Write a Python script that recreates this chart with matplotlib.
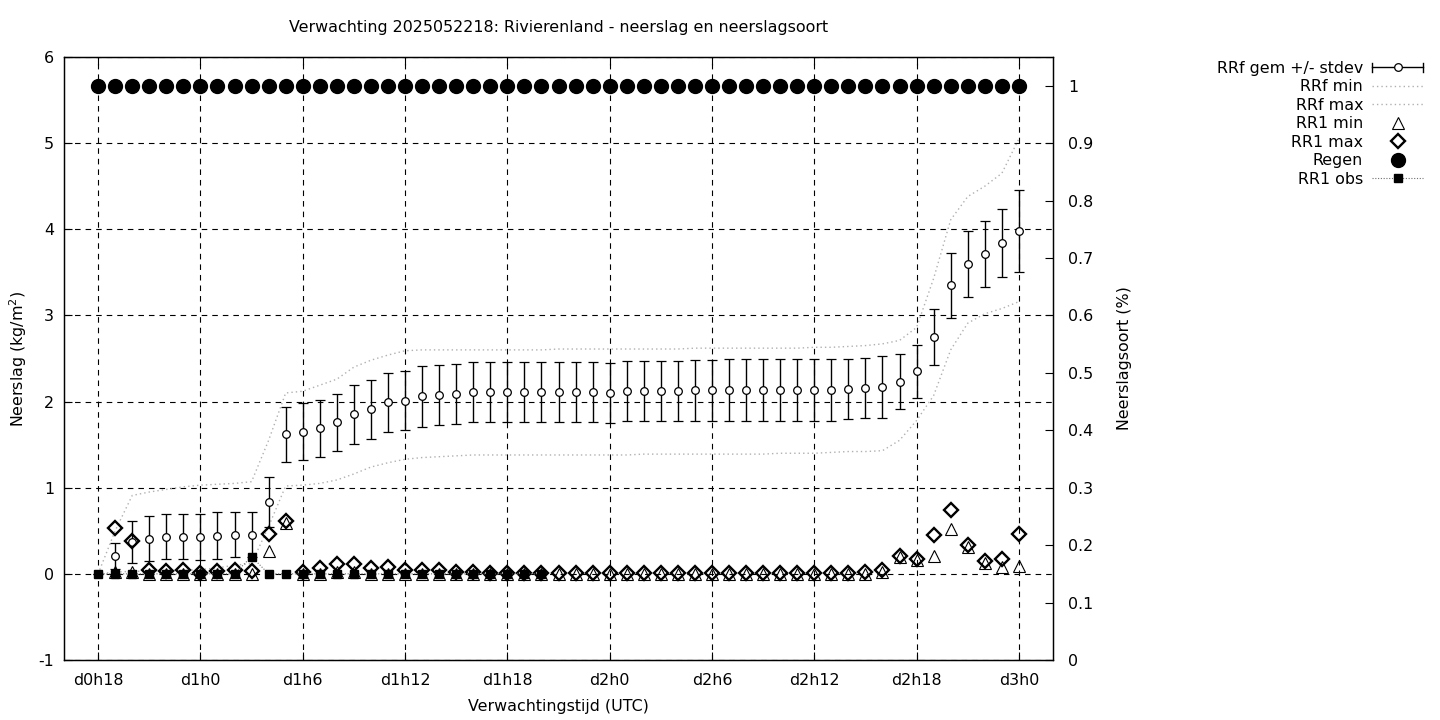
import numpy as np
import matplotlib
matplotlib.use('Agg')
import matplotlib.pyplot as plt
from matplotlib.lines import Line2D
from matplotlib.legend_handler import HandlerBase

plt.rcParams['font.family'] = ['DejaVu Sans']
plt.rcParams['font.size'] = 11.4
plt.rcParams['axes.unicode_minus'] = False

# ---------------- data ----------------
lead_hours = list(range(0, 55))  # hours after d0h18
tick_hours = [0, 6, 12, 18, 24, 30, 36, 42, 48, 54]
tick_labels = ['d0h18', 'd1h0', 'd1h6', 'd1h12', 'd1h18', 'd2h0', 'd2h6', 'd2h12', 'd2h18', 'd3h0']

rrf_mean = [0.0, 0.21, 0.37, 0.41, 0.43, 0.43, 0.43, 0.445, 0.455, 0.455,
            0.83, 1.62, 1.65, 1.69, 1.76, 1.85, 1.91, 1.99, 2.01, 2.06,
            2.08, 2.09, 2.11, 2.11, 2.11, 2.11, 2.11, 2.11, 2.11, 2.11,
            2.10, 2.12, 2.12, 2.12, 2.12, 2.13, 2.13, 2.13, 2.13, 2.13,
            2.13, 2.14, 2.14, 2.14, 2.15, 2.16, 2.17, 2.23, 2.35, 2.75,
            3.35, 3.60, 3.71, 3.84, 3.98]
rrf_std = [0.0, 0.15, 0.24, 0.26, 0.26, 0.26, 0.27, 0.27, 0.26, 0.26,
           0.29, 0.32, 0.33, 0.33, 0.33, 0.34, 0.34, 0.34, 0.34, 0.35,
           0.35, 0.35, 0.35, 0.35, 0.35, 0.35, 0.35, 0.35, 0.35, 0.35,
           0.35, 0.35, 0.35, 0.35, 0.35, 0.35, 0.35, 0.36, 0.36, 0.36,
           0.36, 0.36, 0.36, 0.36, 0.35, 0.35, 0.36, 0.32, 0.31, 0.33,
           0.38, 0.385, 0.385, 0.395, 0.475]
rrf_min = [0.0, 0.02, 0.03, 0.03, 0.04, 0.04, 0.05, 0.07, 0.10, 0.12,
           0.55, 1.02, 1.03, 1.05, 1.09, 1.16, 1.24, 1.29, 1.33, 1.35,
           1.36, 1.37, 1.38, 1.38, 1.38, 1.38, 1.38, 1.38, 1.38, 1.38,
           1.38, 1.38, 1.39, 1.39, 1.39, 1.39, 1.39, 1.39, 1.39, 1.39,
           1.40, 1.40, 1.40, 1.41, 1.42, 1.42, 1.43, 1.55, 1.78, 2.07,
           2.60, 2.91, 3.02, 3.08, 3.16]
rrf_max = [0.0, 0.50, 0.91, 0.95, 0.98, 1.01, 1.03, 1.04, 1.05, 1.07,
           1.55, 2.10, 2.12, 2.19, 2.26, 2.40, 2.48, 2.54, 2.59, 2.60,
           2.60, 2.60, 2.60, 2.60, 2.60, 2.60, 2.60, 2.61, 2.61, 2.61,
           2.61, 2.61, 2.61, 2.61, 2.61, 2.62, 2.62, 2.62, 2.62, 2.62,
           2.62, 2.62, 2.63, 2.63, 2.64, 2.65, 2.67, 2.71, 2.86, 3.43,
           4.11, 4.38, 4.50, 4.65, 5.05]
rr1_min = [np.nan, 0.02, 0.02, 0.0, 0.0, 0.0, 0.0, 0.0, 0.0, 0.0,
           0.26, 0.59, 0.0, 0.0, 0.02, 0.02, 0.0, 0.0, 0.0, 0.0,
           0.0, 0.0, 0.0, 0.0, 0.0, 0.0, 0.0, 0.0, 0.0, 0.0,
           0.0, 0.0, 0.0, 0.0, 0.0, 0.0, 0.0, 0.0, 0.0, 0.0,
           0.0, 0.0, 0.0, 0.0, 0.0, 0.0, 0.02, 0.19, 0.16, 0.21,
           0.52, 0.31, 0.13, 0.08, 0.09]
rr1_max = [np.nan, 0.53, 0.38, 0.05, 0.03, 0.04, 0.01, 0.03, 0.05, 0.03,
           0.46, 0.61, 0.02, 0.07, 0.12, 0.12, 0.07, 0.08, 0.04, 0.05,
           0.04, 0.02, 0.02, 0.01, 0.01, 0.01, 0.01, 0.01, 0.01, 0.01,
           0.01, 0.01, 0.01, 0.01, 0.01, 0.01, 0.01, 0.01, 0.01, 0.01,
           0.01, 0.01, 0.01, 0.01, 0.01, 0.02, 0.04, 0.21, 0.17, 0.45,
           0.74, 0.33, 0.15, 0.17, 0.46]
regen = [1.0] * 55
rr1_obs = [0.0, 0.0, 0.0, 0.0, 0.0, 0.0, 0.0, 0.0, 0.0, 0.2,
           0.0, 0.0, 0.0, 0.0, 0.0, 0.0, 0.0, 0.0, 0.0, 0.0,
           0.0, 0.0, 0.0, 0.0, 0.0, 0.0, 0.0] + [np.nan] * 28

# ---------------- figure ----------------
W, H = 1440, 720
fig = plt.figure(figsize=(W / 100, H / 100), dpi=100)
L, R, T, B = 64, 1053, 57, 660
ax = fig.add_axes([L / W, (H - B) / H, (R - L) / W, (B - T) / H])
ax2 = ax.twinx()

grey = '#b0b0b0'
dots = (0, (1, 2.2))
ax.plot(lead_hours, rrf_min, color=grey, linestyle=dots, lw=1, zorder=2)
ax.plot(lead_hours, rrf_max, color=grey, linestyle=dots, lw=1, zorder=2)
ax.errorbar(lead_hours, rrf_mean, yerr=rrf_std, fmt='o', mfc='white', mec='black',
            ms=5.5, mew=0.9, ecolor='black', elinewidth=1.0, capsize=3.6,
            capthick=1.0, zorder=3)
ax.plot(lead_hours, rr1_min, linestyle='none', marker='^', ms=9, mfc='none',
        mec='black', mew=0.8, zorder=4)
ax.plot(lead_hours, rr1_max, linestyle='none', marker='D', ms=7, mfc='none',
        mec='black', mew=1.7, zorder=4)
ax.plot(lead_hours, rr1_obs, color='#707070', linestyle=(0, (1, 1.5)), lw=0.8,
        marker='s', ms=5.5, mfc='black', mec='black', zorder=5)
ax2.plot(lead_hours, regen, linestyle='none', marker='o', ms=10, color='black', zorder=5)

ax.set_xlim(-2, 56)
ax.set_ylim(-1, 6)
ax2.set_ylim(0, 1.05)
ax.set_xticks(tick_hours)
ax.set_xticklabels(tick_labels)
ax.set_yticks(range(-1, 7))
ax.set_yticklabels([str(v) for v in range(-1, 7)])
ax2.set_yticks([i / 10 for i in range(11)])
ax2.set_yticklabels(['0', '0.1', '0.2', '0.3', '0.4', '0.5', '0.6', '0.7', '0.8', '0.9', '1'])

ax.grid(True, color='black', linestyle=(0, (5, 4.5)), linewidth=0.8)
ax.set_axisbelow(True)
ax.tick_params(axis='x', direction='in', length=6, top=True, pad=9.5, width=0.8)
ax.tick_params(axis='y', direction='in', length=6, right=False, pad=7, width=0.8)
ax2.tick_params(axis='y', direction='in', length=6, pad=11, width=0.8)
for a in (ax, ax2):
    for s in a.spines.values():
        s.set_linewidth(0.9)

ax.set_title('Verwachting 2025052218: Rivierenland - neerslag en neerslagsoort', pad=18, fontsize=11.4)
ax.set_xlabel('Verwachtingstijd (UTC)', labelpad=8)
ax.set_ylabel('Neerslag (kg/m$^2$)', labelpad=7)
ax2.set_ylabel('Neerslagsoort (%)', labelpad=17)


# ---------------- legend ----------------
class HandlerErrH(HandlerBase):
    def create_artists(self, legend, orig_handle, xdescent, ydescent, width, height,
                       fontsize, trans):
        x0, x1 = -xdescent, width - xdescent
        y = (height - ydescent) / 2
        c = 0.28 * fontsize
        arts = [Line2D([x0, x1], [y, y], color='black', lw=1.0),
                Line2D([x0, x0], [y - c, y + c], color='black', lw=1.0),
                Line2D([x1, x1], [y - c, y + c], color='black', lw=1.0),
                Line2D([(x0 + x1) / 2], [y], marker='o', ms=5.5, mfc='white',
                       mec='black', mew=0.9, linestyle='none')]
        for a in arts:
            a.set_transform(trans)
        return arts


h_err = Line2D([], [], color='black')
h_min = Line2D([], [], color=grey, linestyle=dots, lw=1)
h_max = Line2D([], [], color=grey, linestyle=dots, lw=1)
h_t = Line2D([], [], linestyle='none', marker='^', ms=9, mfc='none', mec='black', mew=0.8)
h_d = Line2D([], [], linestyle='none', marker='D', ms=7, mfc='none', mec='black', mew=1.7)
h_r = Line2D([], [], linestyle='none', marker='o', ms=10, color='black')
h_o = Line2D([], [], color='#707070', linestyle=(0, (1, 1.5)), lw=0.8, marker='s', ms=5.5,
             mfc='black', mec='black')
fig.legend([h_err, h_min, h_max, h_t, h_d, h_r, h_o],
           ['RRf gem +/- stdev', 'RRf min', 'RRf max', 'RR1 min', 'RR1 max', 'Regen', 'RR1 obs'],
           handler_map={h_err: HandlerErrH()},
           loc='upper right', bbox_to_anchor=(1423 / W, 1 - 61 / H),
           frameon=False, markerfirst=False, borderpad=0, borderaxespad=0,
           handlelength=3.2, handletextpad=0.58, labelspacing=0.22, numpoints=1)

fig.savefig('out.png', dpi=100)
